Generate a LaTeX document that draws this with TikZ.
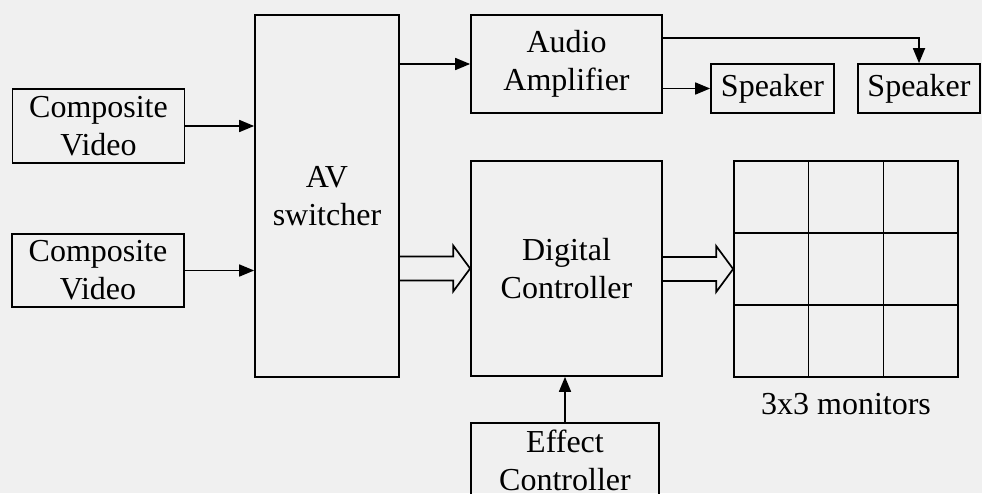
\documentclass[tikz,border=0pt]{standalone}
\usepackage{fontspec}
\setmainfont{Liberation Serif}
\usetikzlibrary{arrows.meta,calc,positioning}

\tikzset{
 blk/.style={draw,line width=1.7pt,align=center,inner sep=0pt,font=\fontsize{32}{38}\selectfont},
 conn/.style={line width=1.7pt,-{Triangle[length=15pt,width=12pt]}},
}
% open block arrow from #1 to #2 (horizontal)
\newcommand{\fatarrow}[2]{%
 \draw[line width=1.7pt,line join=miter] ($(#1)+(0,-12)$) -- ($(#2)+(-17,-12)$) -- ($(#2)+(-17,-23)$) -- (#2)
  -- ($(#2)+(-17,23)$) -- ($(#2)+(-17,12)$) -- ($(#1)+(0,12)$);}

\begin{document}
\begin{tikzpicture}[x=1pt,y=-1pt]
\fill[black!6] (0,0) rectangle (982,493);
\clip (0,0) rectangle (982,493);
% sources and switcher
\node[blk,minimum width=172pt,minimum height=74pt] (cv1) at (98.5,126) {Composite\\Video};
\node[blk,minimum width=172pt,minimum height=73pt] (cv2) at (98,270.5) {Composite\\Video};
\node[blk,minimum width=144pt,minimum height=362pt] (av) at (327,196) {AV\\switcher};
% audio path
\node[blk,minimum width=191pt,minimum height=98pt] (amp) at (566.5,64) {Audio\\Amplifier};
\node[blk,minimum width=123pt,minimum height=49pt] (spk1) at (772.5,88.5) {Speaker};
\node[blk,minimum width=122pt,minimum height=49pt] (spk2) at (919,88.5) {Speaker};
% video path
\node[blk,minimum width=191pt,minimum height=215pt] (dig) at (566.5,268.5) {Digital\\Controller};
\node[blk,minimum width=188pt,minimum height=74pt] (eff) at (565,460) {Effect\\Controller};
\node[draw,line width=1.7pt,minimum width=224pt,minimum height=216pt] (mon) at (846,269) {};
\foreach \i in {1,2}{
 \draw[line width=1.7pt] ($(mon.north west)!\i/3!(mon.north east)$) -- ($(mon.south west)!\i/3!(mon.south east)$);
 \draw[line width=1.7pt] ($(mon.north west)!\i/3!(mon.south west)$) -- ($(mon.north east)!\i/3!(mon.south east)$);
}
\node[inner sep=0pt,anchor=north,font=\fontsize{32}{38}\selectfont] (monlbl) [below=15pt of mon] {3x3 monitors};
% connectors
\draw[conn] (cv1.east) -- (cv1.east -| av.west);
\draw[conn] (cv2.east) -- (cv2.east -| av.west);
\draw[conn] (av.east |- amp) -- (amp.west);
\draw[conn] (amp.east |- spk1) -- (spk1.west);
\draw[conn] ($(amp.north east)+(0,24)$) -| (spk2.north);
\draw[conn] (eff.north) -- (eff.north |- dig.south);
\coordinate (avout) at (av.east |- dig);
\coordinate (digout) at (dig.east |- mon);
\fatarrow{avout}{dig.west}
\fatarrow{digout}{mon.west}
\end{tikzpicture}
\end{document}
